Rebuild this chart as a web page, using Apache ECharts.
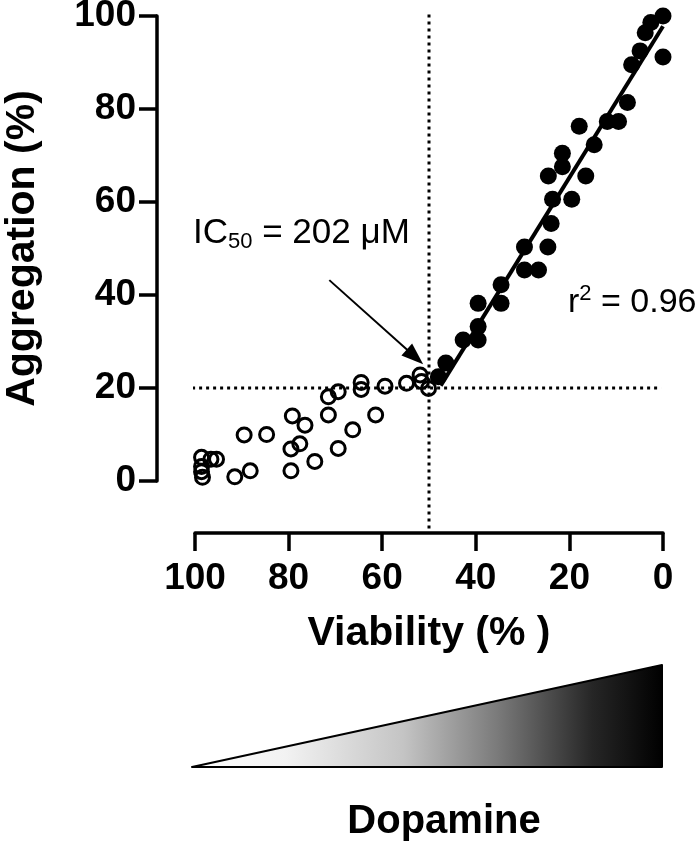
<!DOCTYPE html>
<html>
<head>
<meta charset="utf-8">
<script src="https://cdn.jsdelivr.net/npm/echarts@6/dist/echarts.min.js"></script>
<style>html,body{margin:0;padding:0;background:#fff}#c{width:700px;height:844px}</style>
</head>
<body>
<div id="c"></div>
<script>
// Open circles (below IC50)
const openViability = [98.6, 98.6, 98.6, 98.4, 96.6, 95.4, 91.5, 88.2, 89.5, 84.7, 79.5, 79.5, 77.6, 79.2, 76.5, 74.4, 71.5, 69.4, 71.5, 69.4, 66.3, 64.5, 64.5, 61.4, 59.4, 54.8, 51.9, 51.6, 50.1];
const openAggregation = [5.1, 3.1, 2.0, 0.8, 4.7, 4.7, 0.9, 2.2, 9.9, 10.0, 2.2, 6.9, 8.0, 14.0, 12.0, 4.2, 18.1, 19.2, 14.2, 7.0, 11.0, 21.2, 19.7, 14.2, 20.4, 21.0, 22.8, 21.4, 19.9];
// Filled circles (above IC50)
const filledViability = [0, 2.6, 3.8, 0, 4.9, 6.7, 7.6, 9.5, 11.9, 17.9, 14.7, 21.5, 21.5, 24.5, 16.5, 23.6, 19.5, 23.9, 24.6, 29.6, 29.6, 26.6, 34.6, 34.6, 39.5, 39.5, 39.5, 42.7, 46.4, 48.0];
const filledAggregation = [100, 98.6, 96.4, 91.2, 92.5, 89.5, 81.4, 77.3, 77.3, 76.3, 72.3, 70.5, 67.6, 65.6, 65.6, 60.6, 60.6, 55.4, 50.3, 50.3, 45.4, 45.4, 42.2, 38.2, 38.2, 33.2, 30.3, 30.3, 25.4, 22.4];
// Linear fit end points
const fitViability = [47.5, 0];
const fitAggregation = [20.5, 97.8];
// Reference lines
const ic50Viability = 50;
const ic50Aggregation = 20;
// Annotation arrow (start, tip)
const arrowViability = [71.3, 53.0];
const arrowAggregation = [43.2, 26.7];
const xTicks = [0, 20, 40, 60, 80, 100];
const yTicks = [0, 20, 40, 60, 80, 100];

const zip = (a, b) => a.map((v, i) => [v, b[i]]);
const FONT = 'Liberation Sans, Arial, sans-serif';

const chart = echarts.init(document.getElementById('c'), null, {renderer: 'canvas'});
chart.setOption({
  animation: false,
  backgroundColor: '#fff',
  grid: {left: 195, right: 37, top: 16, bottom: 363, containLabel: false, outerBoundsMode: 'none'},
  xAxis: {
    type: 'value', inverse: true, min: xTicks[0], max: xTicks[xTicks.length - 1], interval: 20,
    offset: 52,
    name: 'Viability (% )', nameLocation: 'middle', nameGap: 80, nameMoveOverlap: false,
    nameTextStyle: {fontFamily: FONT, fontWeight: 'bold', fontSize: 41, color: '#000'},
    axisLine: {onZero: false, lineStyle: {color: '#000', width: 3.5}},
    axisTick: {length: 18, lineStyle: {color: '#000', width: 3.5}},
    axisLabel: {margin: 27, fontFamily: FONT, fontWeight: 'bold', fontSize: 37, color: '#000'},
    splitLine: {show: false}
  },
  yAxis: {
    type: 'value', min: yTicks[0], max: yTicks[yTicks.length - 1], interval: 20,
    offset: 38,
    name: 'Aggregation (%)', nameLocation: 'middle', nameGap: 114, nameMoveOverlap: false,
    nameTextStyle: {fontFamily: FONT, fontWeight: 'bold', fontSize: 41, color: '#000'},
    axisLine: {show: true, onZero: false, lineStyle: {color: '#000', width: 3.5}},
    axisTick: {show: true, length: 18, lineStyle: {color: '#000', width: 3.5}},
    axisLabel: {margin: 21, fontFamily: FONT, fontWeight: 'bold', fontSize: 37, color: '#000'},
    splitLine: {show: false}
  },
  series: [
    {
      type: 'line', clip: false, symbol: 'none', silent: true,
      data: [[ic50Viability, -10.2], [ic50Viability, 101]],
      lineStyle: {color: '#000', width: 3, type: [3, 4]}
    },
    {
      type: 'line', clip: false, symbol: 'none', silent: true,
      data: [[106.6, ic50Aggregation], [0.4, ic50Aggregation]],
      lineStyle: {color: '#000', width: 3, type: [3, 4]},
      markLine: {
        silent: true, symbol: ['none', 'triangle'], symbolSize: [16, 22],
        label: {show: false},
        lineStyle: {color: '#000', width: 2, type: 'solid'},
        data: [[{coord: [arrowViability[0], arrowAggregation[0]]}, {coord: [arrowViability[1], arrowAggregation[1]]}]]
      }
    },
    {
      type: 'line', symbol: 'none', silent: true,
      data: zip(fitViability, fitAggregation),
      lineStyle: {color: '#000', width: 4}
    },
    {
      type: 'scatter', symbol: 'circle', symbolSize: 14,
      data: zip(openViability, openAggregation),
      itemStyle: {color: 'rgba(255,255,255,0)', borderColor: '#000', borderWidth: 3, opacity: 1}
    },
    {
      type: 'scatter', symbol: 'circle', symbolSize: 17,
      data: zip(filledViability, filledAggregation),
      itemStyle: {color: '#000', opacity: 1}
    }
  ],
  graphic: [
    {
      type: 'text',
      style: {
        x: 193, y: 233, verticalAlign: 'middle',
        text: '{a|IC}{s|50}{a| = 202 μM}',
        rich: {
          a: {fontFamily: FONT, fontSize: 35, color: '#000', lineHeight: 40},
          s: {fontFamily: FONT, fontSize: 22, color: '#000', lineHeight: 40, padding: [18, 0, 0, 0]}
        }
      }
    },
    {
      type: 'text',
      style: {
        x: 568, y: 303, verticalAlign: 'middle',
        text: '{a|r}{p|2}{a| = 0.96}',
        rich: {
          a: {fontFamily: FONT, fontSize: 34, color: '#000', lineHeight: 40},
          p: {fontFamily: FONT, fontSize: 22, color: '#000', lineHeight: 40, padding: [0, 0, 18, 0]}
        }
      }
    },
    {
      type: 'polygon',
      shape: {points: [[192, 767], [662, 665], [662, 767]]},
      style: {
        fill: new echarts.graphic.LinearGradient(0, 0, 1, 0, [
          {offset: 0, color: '#ffffff'},
          {offset: 0.2, color: '#f2f2f2'},
          {offset: 0.45, color: '#c4c4c4'},
          {offset: 0.65, color: '#7a7a7a'},
          {offset: 0.85, color: '#262626'},
          {offset: 1, color: '#000000'}
        ]),
        stroke: '#000', lineWidth: 2, lineJoin: 'round'
      }
    },
    {
      type: 'text',
      style: {
        x: 444, y: 822, align: 'center', verticalAlign: 'middle',
        text: 'Dopamine', fontFamily: FONT, fontWeight: 'bold', fontSize: 40, fill: '#000'
      }
    }
  ]
});
</script>
</body>
</html>
